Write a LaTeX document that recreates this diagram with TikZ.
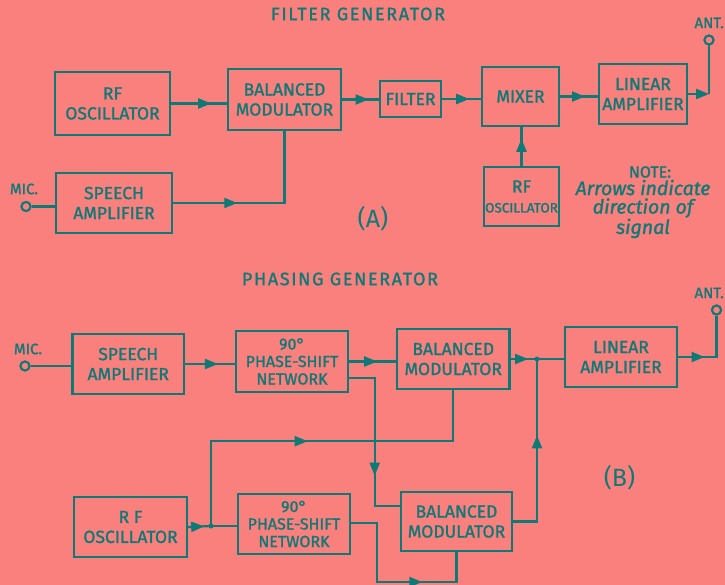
\documentclass[tikz,border=0pt]{standalone}
\usepackage{fontspec}
\setmainfont{Fira Sans}[FakeBold=1.3]
\newfontfamily\titlefont{Fira Sans}[LetterSpace=9,FakeBold=1.2]
\newfontfamily\thinfont{Fira Sans}
\usetikzlibrary{arrows.meta,decorations.markings,calc}
\definecolor{bg}{RGB}{250,128,126}
\definecolor{ink}{RGB}{14,122,120}
\tikzset{
  box/.style={draw=ink, line width=2.4pt, text=ink, align=center, inner sep=0pt,
    font=\fontsize{17.5}{20}\selectfont},
  psbox/.style={box, font=\fontsize{16}{17.5}\selectfont},
  wire/.style={draw=ink, color=ink, line width=2.2pt},
  tipA/.style={postaction={decorate}, decoration={markings,
    mark=at position #1 with {\arrow{Triangle[length=13pt,width=10pt]}}}},
  term/.style={circle, draw=ink, fill=bg, line width=2pt, minimum size=9pt, inner sep=0pt},
  jdot/.style={circle, fill=ink, minimum size=5pt, inner sep=0pt},
  lbl/.style={text=ink, inner sep=0pt},
}
\begin{document}
\begin{tikzpicture}[x=1pt,y=-1pt]
\fill[bg] (0,0) rectangle (725,585);
\useasboundingbox (0,0) rectangle (725,585);

% ---------------- (A) Filter generator ----------------
\node[lbl, font=\titlefont\fontsize{18}{20}\selectfont] (titA) at (358,14) {FILTER GENERATOR};
\node[box, minimum width=115pt, minimum height=63pt] (rfo) at (112.5,103.5) {RF\\OSCILLATOR};
\node[box, minimum width=113pt, minimum height=61pt] (bm) at (284.5,99.5) {BALANCED\\MODULATOR};
\node[box, minimum width=61pt, minimum height=36pt] (filt) at (410.5,99) {FILTER};
\node[box, minimum width=77pt, minimum height=59pt] (mix) at (520.5,96.5) {MIXER};
\node[box, minimum width=88pt, minimum height=60pt] (lin) at (643,94) {LINEAR\\AMPLIFIER};
\node[box, minimum width=116pt, minimum height=60pt] (sp) at (114,203) {SPEECH\\AMPLIFIER};
\node[box, minimum width=75pt, minimum height=59pt] (rfo2) at (521.5,196.5) {RF\\{\fontsize{13.5}{15}\selectfont OSCILLATOR}};

\node[term] (mic) at (26,206.5) {};
\node[lbl, font=\fontsize{15}{17}\selectfont] (micl) at (24,189) {MIC.};
\node[term] (ant) at (709,40) {};
\node[lbl, font=\fontsize{15}{17}\selectfont, anchor=east] (antl) at (724,23) {ANT.};

\draw[wire,tipA=0.72] (rfo.east) -- (rfo.east -| bm.west);
\draw[wire,tipA=0.72] (bm.east) -- (bm.east -| filt.west);
\draw[wire,tipA=0.70] (filt.east) -- (filt.east -| mix.west);
\draw[wire,tipA=0.66] (mix.east) -- (mix.east -| lin.west);
\draw[wire,-{Triangle[length=13pt,width=10pt]}] (lin.east) -- (ant |- lin.east);
\draw[wire] (ant |- lin.east) -- (ant);
\draw[wire,tipA=0.35] (sp.east) -- (sp.east -| bm.south) -- (bm.south);
\draw[wire,tipA=0.70] (rfo2.north) -- (rfo2.north |- mix.south);
\draw[wire] (mic) -- (mic -| sp.west);
\node[term] at (mic) {};
\node[term] at (ant) {};

\node[lbl, font=\fontsize{16}{18}\selectfont] (note) at (650,172) {NOTE:};
\node[lbl, font=\itshape\fontsize{19.5}{18.5}\selectfont, align=center] (notet) at (643,209)
  {Arrows indicate\\direction of\\signal};
\node[lbl, font=\thinfont\fontsize{25}{27}\selectfont] (labA) at (373,219) {(A)};

% ---------------- (B) Phasing generator ----------------
\node[lbl, font=\titlefont\fontsize{18}{20}\selectfont] (titB) at (340,279) {PHASING GENERATOR};
\node[box, minimum width=111.5pt, minimum height=60pt] (sp2) at (128.25,364) {SPEECH\\AMPLIFIER};
\node[psbox, minimum width=112pt, minimum height=61pt] (ps1) at (292,361.5) {90°\\PHASE-SHIFT\\NETWORK};
\node[box, minimum width=112.5pt, minimum height=60pt] (bm1) at (453.25,359) {BALANCED\\MODULATOR};
\node[box, minimum width=112pt, minimum height=60pt] (lin2) at (621,357) {LINEAR\\AMPLIFIER};
\node[box, minimum width=113pt, minimum height=60pt] (rf2) at (130.5,527) {R F\\OSCILLATOR};
\node[psbox, minimum width=112pt, minimum height=60pt] (ps2) at (294,524) {90°\\PHASE-SHIFT\\NETWORK};
\node[box, minimum width=111pt, minimum height=59pt] (bm2) at (456.5,521.5) {BALANCED\\MODULATOR};

\node[term] (mic2) at (25,366) {};
\node[lbl, font=\fontsize{15}{17}\selectfont] (micl2) at (28,349) {MIC.};
\node[term] (ant2) at (716.5,310) {};
\node[lbl, font=\fontsize{15}{17}\selectfont, anchor=east] (antl2) at (724,293) {ANT.};

\coordinate (j1) at (537,359);
\coordinate (j2) at (211,526);
\coordinate (p1) at ($(ps1.east)+(0,16.5)$);
\coordinate (q1) at ($(bm2.west)+(0,-15.5)$);
\coordinate (p2) at ($(ps2.east)+(0,-1)$);

\draw[wire] (mic2) -- (mic2 -| sp2.west);
\draw[wire,tipA=0.66] (sp2.east) -- (sp2.east -| ps1.west);
\draw[wire,tipA=0.60] (ps1.east) -- (ps1.east -| bm1.west);
\draw[wire,tipA=0.66] (bm1.east) -- (j1);
\draw[wire] (j1) -- (j1 -| lin2.west);
\draw[wire,tipA=0.33] (lin2.east) -- (ant2 |- lin2.east) -- (ant2);
\draw[wire,tipA=0.69] (p1) -- ++(25.5,0) |- (q1);
\draw[wire,tipA=0.70] (rf2.east) -- (j2);
\draw[wire] (j2) -- (j2 -| ps2.west);
\draw[wire,tipA=0.48] (j2) |- ($(bm1.south)+(0,51)$) -- (bm1.south);
\draw[wire,tipA=0.67] (p2) -- ++(25.5,0) -- ++(0,59) -| (bm2.south);
\draw[wire,tipA=0.59] (bm2.east) -| (j1);
\node[jdot] at (j1) {};
\node[jdot] at (j2) {};
\node[term] at (mic2) {};
\node[term] at (ant2) {};

\node[lbl, font=\thinfont\fontsize{25}{27}\selectfont] (labB) at (619.5,478) {(B)};
\end{tikzpicture}
\end{document}
